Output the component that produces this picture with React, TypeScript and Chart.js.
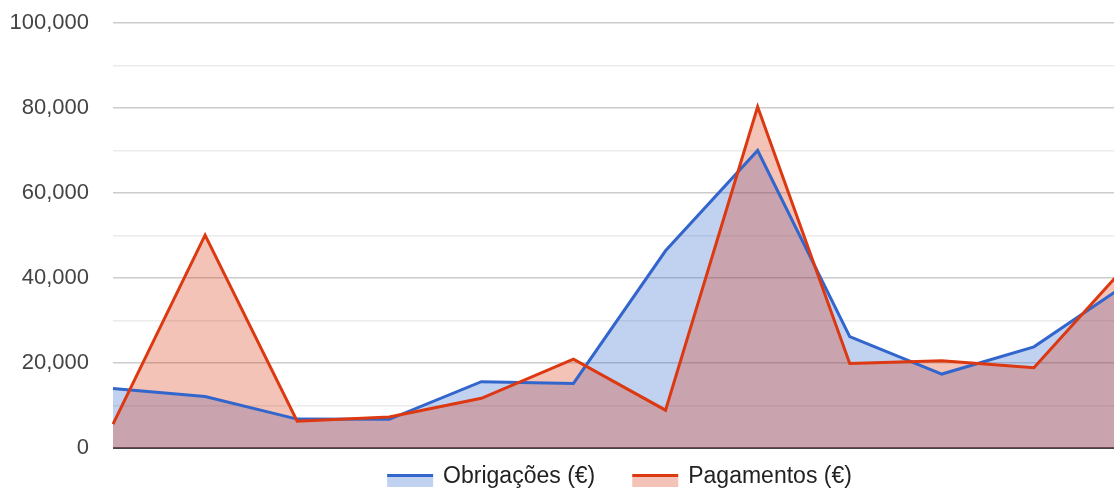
import { useEffect, useRef } from "react";
import { Chart, registerables } from "chart.js";

Chart.register(...registerables);

const months = ["Jan", "Fev", "Mar", "Abr", "Mai", "Jun", "Jul", "Ago", "Set", "Out", "Nov", "Dez"];
const obrigacoes = [14000, 12100, 6800, 6750, 15600, 15200, 46400, 70000, 26200, 17400, 23800, 38500];
const pagamentos = [5600, 50100, 6300, 7300, 11700, 20900, 8900, 80300, 19900, 20500, 18900, 42900];
const seriesNames = ["Obrigações (€)", "Pagamentos (€)"];
const lineColors = ["#3366cc", "#dc3912"];
const fillColors = ["rgba(51,102,204,0.3)", "rgba(220,57,18,0.3)"];
const yMin = 0;
const yMax = 100000;
const yStep = 10000;
const yLabelStep = 20000;

const FONT = '"Liberation Sans", Arial, sans-serif';

const legendPlugin = {
  id: "customLegend",
  afterDraw(chart: any) {
    const { ctx, chartArea } = chart;
    ctx.save();
    ctx.font = `23px ${FONT}`;
    const items = seriesNames.map((name, i) => ({
      name,
      line: lineColors[i],
      fill: fillColors[i],
      w: ctx.measureText(name).width,
    }));
    const sw = 46;
    const gap = 10;
    const itemGap = 37;
    const total = items.reduce((s, it) => s + sw + gap + it.w, 0) + itemGap * (items.length - 1);
    let x = (chartArea.left + chartArea.right) / 2 - total / 2;
    const base = chartArea.bottom;
    items.forEach((it) => {
      ctx.fillStyle = it.fill;
      ctx.fillRect(x, base + 29, sw, 10);
      ctx.fillStyle = it.line;
      ctx.fillRect(x, base + 26, sw, 3);
      ctx.fillStyle = "#222";
      ctx.textBaseline = "alphabetic";
      ctx.textAlign = "left";
      ctx.fillText(it.name, x + sw + gap, base + 35);
      x += sw + gap + it.w + itemGap;
    });
    ctx.restore();
  },
};

export default function App() {
  const ref = useRef<HTMLCanvasElement | null>(null);

  useEffect(() => {
    if (!ref.current) return;
    const chart = new Chart(ref.current, {
      type: "line",
      data: {
        labels: months,
        datasets: [
          {
            label: seriesNames[0],
            data: obrigacoes,
            borderColor: lineColors[0],
            backgroundColor: fillColors[0],
            borderWidth: 3,
            fill: "origin",
            pointRadius: 0,
            tension: 0,
            order: 1,
          },
          {
            label: seriesNames[1],
            data: pagamentos,
            borderColor: lineColors[1],
            backgroundColor: fillColors[1],
            borderWidth: 3,
            fill: "origin",
            pointRadius: 0,
            tension: 0,
            order: 0,
          },
        ],
      },
      options: {
        animation: false,
        responsive: false,
        maintainAspectRatio: false,
        layout: { padding: { top: 23, bottom: 42, left: 0, right: 0 } },
        plugins: {
          legend: { display: false },
          tooltip: { enabled: false },
          filler: { drawTime: "beforeDatasetsDraw" } as any,
        },
        scales: {
          x: { display: false, offset: false },
          y: {
            min: yMin,
            max: yMax,
            border: { display: false },
            grid: {
              drawTicks: false,
              color: (c: any) =>
                c.tick.value === 0 ? "#444" : c.tick.value % yLabelStep === 0 ? "#cccccc" : "#ebebeb",
              lineWidth: (c: any) => (c.tick.value === 0 ? 2 : 1.5),
            },
            ticks: {
              stepSize: yStep,
              autoSkip: false,
              padding: 24,
              color: "#444",
              font: { family: FONT, size: 22 },
              callback: (v: any) => (Number(v) % yLabelStep === 0 ? Number(v).toLocaleString("en-US") : ""),
            },
            afterFit: (scale: any) => {
              scale.width = 113;
              scale.paddingTop = 0;
              scale.paddingBottom = 0;
            },
          },
        },
      },
      plugins: [legendPlugin],
    });
    return () => chart.destroy();
  }, []);

  return (
    <div style={{ position: "fixed", left: 0, top: 0, width: 1114, height: 490, overflow: "hidden", background: "#fff" }}>
      <canvas ref={ref} width={1126} height={490} style={{ width: 1126, height: 490, display: "block" }} />
    </div>
  );
}
